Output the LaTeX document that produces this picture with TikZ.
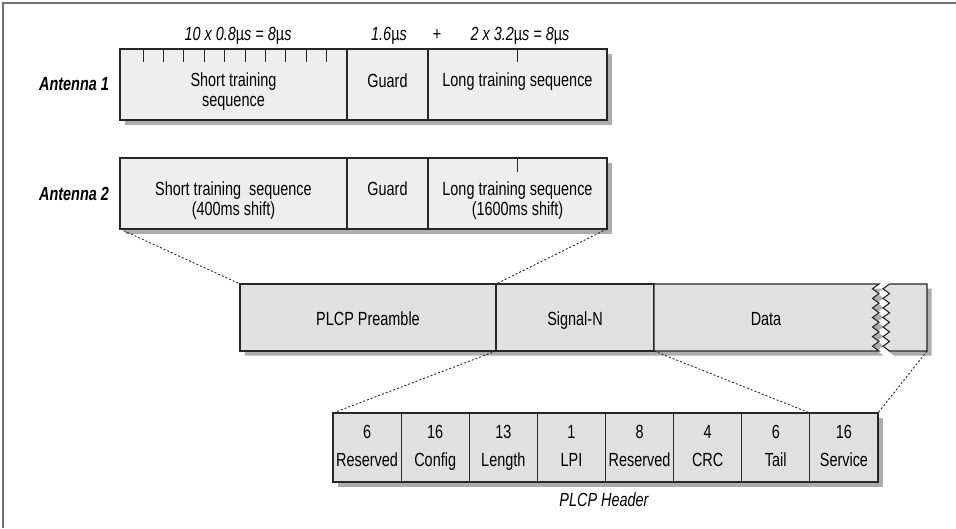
\documentclass[tikz,border=0pt]{standalone}
\usepackage{fontspec}
\setmainfont{Liberation Sans}[FakeStretch=0.76]
\begin{document}
\begin{tikzpicture}[x=1pt,y=-1pt,
  font=\fontsize{19}{20}\selectfont,
  box/.style={draw=black!85, line width=1.1pt, inner sep=0pt, outer sep=0pt, anchor=north west},
  ant/.style={box, fill=gray!13, minimum height=71pt},
  mainc/.style={box, fill=gray!24, minimum height=67pt},
  hdr/.style={box, fill=gray!24, minimum height=69pt, minimum width=68.125pt},
  shade/.style={fill=gray!65, draw=none},
  tick/.style={line width=1pt, draw=black!85},
  dots/.style={line width=0.9pt, draw=black!85, dash pattern=on 2pt off 2pt},
  txt/.style={anchor=base, inner sep=0pt, align=center},
  ilab/.style={txt, font=\fontsize{19}{20}\selectfont\itshape},
  alab/.style={txt, font=\fontsize{19}{20}\selectfont\bfseries\itshape},
]
\useasboundingbox (0,0) rectangle (956,528);
\draw[black!55, line width=2pt] (956,3) -- (3,3) -- (3,528);

\def\leftzig{-- (872.5,288.79) -- (879,293.57) -- (872.5,298.36) -- (879,303.14) -- (872.5,307.93) -- (879,312.71) -- (872.5,317.5) -- (879,322.29) -- (872.5,327.07) -- (879,331.86) -- (872.5,336.64) -- (879,341.43) -- (872.5,346.21) -- (879,351)}
\def\rightzig{-- (883,346.21) -- (889.5,341.43) -- (883,336.64) -- (889.5,331.86) -- (883,327.07) -- (889.5,322.29) -- (883,317.5) -- (889.5,312.71) -- (883,307.93) -- (889.5,303.14) -- (883,298.36) -- (889.5,293.57) -- (883,288.79) -- (889.5,284)}

% shadows
\fill[shade] (124.5,53.5) rectangle (611.5,124.5);
\fill[shade] (124.5,162.5) rectangle (611.5,233.5);
\fill[shade, shift={(4.5,4.5)}] (240,284) -- (879,284) \leftzig -- (240,351) -- cycle;
\fill[shade, shift={(4.5,4.5)}] (927,284) -- (927,351) -- (889.5,351) \rightzig -- cycle;
\fill[shade] (337.5,417.5) rectangle (882.5,486.5);

% Antenna 1
\node[ant, minimum width=227pt] (a1s) at (120,49) {};
\node[ant, minimum width=81pt] (a1g) at (347,49) {};
\node[ant, minimum width=179pt] (a1l) at (428,49) {};
\foreach \k in {0,...,9} \draw[tick] (143+20.4*\k,49) -- ++(0,13);
\draw[tick] (a1l.north) -- ++(0,13);
\node[txt] (t1s) at (233.5,106.5) {Short training\\sequence};
\node[txt] (t1g) at (387.5,87) {Guard};
\node[txt] (t1l) at (517.5,86.5) {Long training sequence};
\node[alab] (lab1) at (74,90.5) {Antenna 1};
\node[ilab] (d1) at (238,40) {10 x 0.8{\upshape µ}s = 8{\upshape µ}s};
\node[ilab] (d2) at (389,40) {1.6{\upshape µ}s};
\node[txt] (d3) at (437,40) {+};
\node[ilab] (d4) at (520,40) {2 x 3.2{\upshape µ}s = 8{\upshape µ}s};

% Antenna 2
\node[ant, minimum width=227pt] (a2s) at (120,158) {};
\node[ant, minimum width=81pt] (a2g) at (347,158) {};
\node[ant, minimum width=179pt] (a2l) at (428,158) {};
\draw[tick] (a2l.north) -- ++(0,14);
\node[txt] (t2s) at (233.5,215) {Short training\ \ sequence\\(400ms shift)};
\node[txt] (t2g) at (387.5,195) {Guard};
\node[txt] (t2l) at (517.5,215) {Long training sequence\\(1600ms shift)};
\node[alab] (lab2) at (74,200) {Antenna 2};

% main row
\node[mainc, minimum width=256pt] (pre) at (240,284) {};
\node[mainc, minimum width=158pt] (sig) at (496,284) {};
\filldraw[fill=gray!24, draw=black!85, line width=1.1pt] (654,284) -- (879,284) \leftzig -- (654,351) -- cycle;
\filldraw[fill=gray!24, draw=black!85, line width=1.1pt] (927,284) -- (927,351) -- (889.5,351) \rightzig -- cycle;
\coordinate (dataR) at (927,351);
\node[txt] (tpre) at (368,325) {PLCP Preamble};
\node[txt] (tsig) at (575,325) {Signal-N};
\node[txt] (tdat) at (766,325) {Data};

% header
\foreach \n/\v [count=\i from 0] in {6/Reserved,16/Config,13/Length,1/LPI,8/Reserved,4/CRC,6/Tail,16/Service}{
  \node[hdr] (h\i) at (333+68.125*\i,413) {};
  \node[txt] (hn\i) at (333+68.125*\i+34.06,438) {\n};
  \node[txt] (hl\i) at (333+68.125*\i+34.06,466.7) {\v};
}
\node[ilab] (hcap) at (604,506.5) {PLCP Header};

% dotted connectors
\draw[dots] (a2s.south west) -- (pre.north west);
\draw[dots] (a2l.south east) -- (pre.north east);
\draw[dots] (pre.south east) -- (h0.north west);
\draw[dots] (sig.south east) -- (h6.north east);
\draw[dots] (dataR) -- (h7.north east);
\end{tikzpicture}
\end{document}
